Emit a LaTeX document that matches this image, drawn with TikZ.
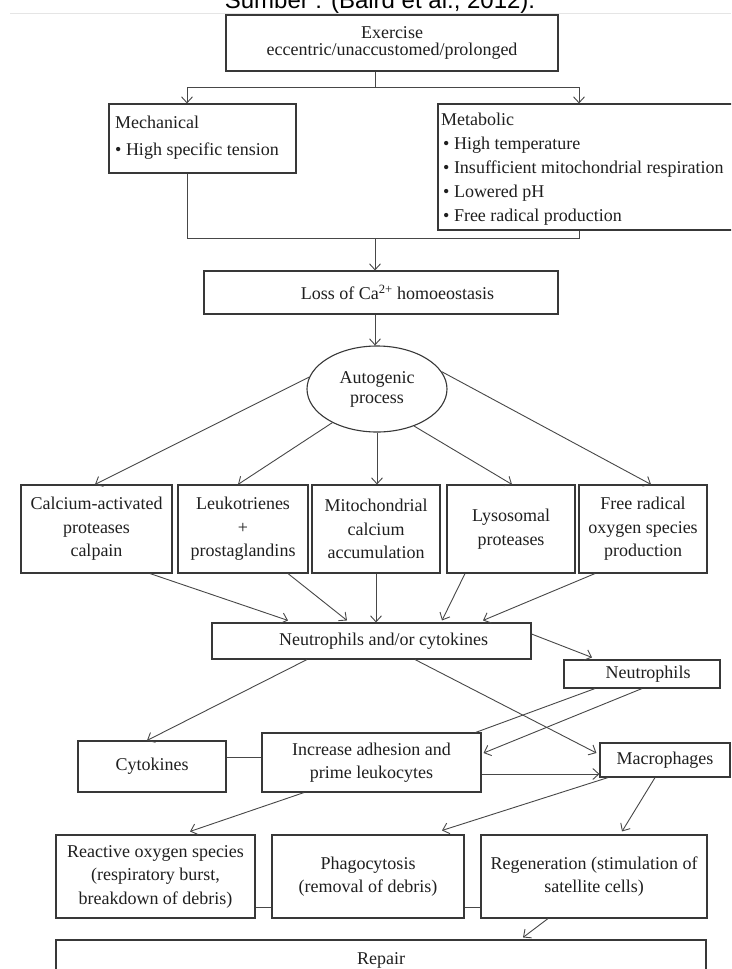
\documentclass[tikz,border=0pt]{standalone}
\usepackage{fontspec}
\setmainfont{Liberation Serif}
\newfontfamily\captionsans{Liberation Sans}
\usetikzlibrary{arrows.meta,shapes.geometric}

\begin{document}
\begin{tikzpicture}[x=1pt,y=-1pt,
  every node/.style={text=black!88},
  box/.style={draw=black!78, line width=1.1pt, rectangle, inner sep=0pt,
    align=center, font=\fontsize{18}{23.5}\selectfont},
  oval/.style={draw=black!78, line width=1.1pt, ellipse, inner sep=0pt,
    align=center, font=\fontsize{18}{20}\selectfont},
  plain/.style={inner sep=0pt, anchor=base west, font=\fontsize{18}{23.5}\selectfont},
  link/.style={draw=black!72, line width=0.9pt},
  arr/.style={link, -{Straight Barb[length=6pt,width=11pt]}},
]
% page
\fill[white] (0,0) rectangle (731,969);
\useasboundingbox (0,0) rectangle (731,969);
\clip (0,0) rectangle (731,969);

% source line
\node[font=\captionsans\fontsize{24}{24}\selectfont, anchor=base, text=black, inner sep=0pt]
  (source) at (380,9) {Sumber : (Baird et al., 2012).};
\draw[black!10, line width=1pt] (10,13) -- (731,13);

% causes
\node[box, minimum width=332pt, minimum height=56pt, font=\fontsize{18}{17}\selectfont]
  (ex) at (392,43) {Exercise\\eccentric/unaccustomed/prolonged};

\node[box, minimum width=187pt, minimum height=69pt] (mech) at (202.5,138.5) {};
\node[plain] (mech1) at (115,128) {Mechanical};
\node[plain] (mech2) at (115,155) {\textbullet\ High specific tension};

\node[box, minimum width=342pt, minimum height=126pt] (meta) at (609,167) {};
\node[plain] (meta1) at (441,125) {Metabolic};
\node[plain] (meta2) at (443,149) {\textbullet\ High temperature};
\node[plain] (meta3) at (443,173) {\textbullet\ Insufficient mitochondrial respiration};
\node[plain] (meta4) at (443,197) {\textbullet\ Lowered pH};
\node[plain] (meta5) at (443,221) {\textbullet\ Free radical production};

\node[box, minimum width=354pt, minimum height=43pt]
  (loss) at (381,292.5) {\hspace*{33pt}Loss of Ca\textsuperscript{2+} homoeostasis};

\node[oval, minimum width=140pt, minimum height=86pt] (auto) at (377,389) {Autogenic\\process};

% autogenic pathways
\node[box, minimum width=151pt, minimum height=88pt] (calc) at (96.5,529) {Calcium-activated\\proteases\\calpain};
\node[box, minimum width=130pt, minimum height=88pt] (leuk) at (243,529) {Leukotrienes\\+\\prostaglandins};
\node[box, minimum width=128pt, minimum height=88pt] (mito) at (376,529) {Mitochondrial\\calcium\\accumulation};
\node[box, minimum width=128pt, minimum height=88pt] (lyso) at (511,529) {Lysosomal\\proteases};
\node[box, minimum width=128pt, minimum height=88pt] (free) at (643,529) {Free radical\\oxygen species\\production};

% inflammatory response
\node[box, minimum width=319pt, minimum height=36pt] (nc) at (371.5,641) {\hspace*{24pt}Neutrophils and/or cytokines};
\node[box, minimum width=156pt, minimum height=28pt] (neut) at (642,674) {\hspace*{12pt}Neutrophils};
\node[box, minimum width=148pt, minimum height=51pt] (cyto) at (152,766.5) {Cytokines};
\node[box, minimum width=219pt, minimum height=59pt] (inc) at (371.5,762.5) {Increase adhesion and\\prime leukocytes};
\node[box, minimum width=130pt, minimum height=34pt] (macro) at (665,760) {Macrophages};

% outcomes
\node[box, minimum width=199pt, minimum height=83pt] (ros) at (155.5,876.5) {Reactive oxygen species\\(respiratory burst,\\breakdown of debris)};
\node[box, minimum width=192pt, minimum height=83pt] (phago) at (368,876.5) {Phagocytosis\\(removal of debris)};
\node[box, minimum width=226pt, minimum height=83pt] (regen) at (594,876.5) {Regeneration (stimulation of\\satellite cells)};
\node[box, minimum width=650pt, minimum height=40pt] (repair) at (381,960) {Repair};

% exercise splits into the two causes
\coordinate (split) at (375,87);
\coordinate (splitL) at (187,87);
\coordinate (splitR) at (579,87);
\draw[link] (ex.south -| split) -- (split);
\draw[link] (splitL) -- (splitR);
\draw[arr] (splitL) -- (splitL |- mech.north);
\draw[arr] (splitR) -- (splitR |- meta.north);

% causes join into calcium loss
\coordinate (joinL) at (187,238);
\coordinate (joinM) at (375,238);
\coordinate (joinR) at (579,238);
\draw[link] (mech.south -| joinL) -- (joinL) -- (joinR) -- (meta.south -| joinR);
\draw[arr] (joinM) -- (joinM |- loss.north);
\draw[arr] (loss.south -| joinM) -- (joinM |- auto.north);

% autogenic process branches
\draw[arr] (auto.170) -- ([xshift=-1.5pt]calc.north);
\draw[arr] (auto.217) -- ([xshift=-5pt]leuk.north);
\draw[arr] (auto.south) -- (auto.south |- mito.north);
\draw[arr] (auto.315) -- ([xshift=1pt]lyso.north);
\draw[arr] (auto.15) -- ([xshift=8pt]free.north);

% branches converge
\draw[arr] ([xshift=53.5pt]calc.south) -- ([xshift=-83.5pt,yshift=2pt]nc.north);
\draw[arr] ([xshift=45pt]leuk.south) -- ([xshift=-24.5pt,yshift=2pt]nc.north);
\draw[arr] (mito.south) -- (mito.south |- nc.north);
\draw[arr] ([xshift=-46pt]lyso.south) -- ([xshift=70.5pt,yshift=2pt]nc.north);
\draw[arr] ([xshift=-48pt]free.south) -- ([xshift=111.5pt,yshift=2pt]nc.north);

% inflammatory cells
\draw[arr] ([yshift=7pt]nc.east) -- ([xshift=-50pt,yshift=2pt]neut.north);
\draw[arr] ([xshift=-64.5pt]nc.south) -- ([xshift=-5pt]cyto.north);
\draw[arr] ([xshift=43.5pt]nc.south) -- ([xshift=-3pt,yshift=7pt]macro.west);
\draw[link] ([xshift=-47pt]neut.south) -- ([xshift=-6pt]inc.north east);
\draw[arr] (neut.south) -- ([xshift=2pt,yshift=9.5pt]inc.east);
\coordinate (cytoLink) at ([yshift=9.5pt]cyto.east);
\draw[link] (cytoLink) -- (cytoLink -| inc.west);
\coordinate (incOut) at ([yshift=-11.5pt]inc.east);
\draw[arr] (incOut) -- (incOut -| macro.west);

% outcomes
\draw[arr] ([xshift=-67.5pt]inc.south) -- ([xshift=34.5pt,yshift=3pt]ros.north);
\draw[arr] ([xshift=-57pt]macro.south) -- ([xshift=74pt,yshift=4pt]phago.north);
\draw[arr] ([xshift=-10pt]macro.south) -- ([xshift=28pt,yshift=3pt]regen.north);
\coordinate (rosLink) at ([yshift=-30.5pt]ros.east);
\draw[link] (rosLink) -- (rosLink -| phago.west);
\coordinate (phagoLink) at ([yshift=-30.5pt]phago.east);
\draw[link] (phagoLink) -- (phagoLink -| regen.west);
\draw[arr] ([xshift=-46pt]regen.south) -- ([xshift=142pt,yshift=2pt]repair.north);
\end{tikzpicture}
\end{document}
